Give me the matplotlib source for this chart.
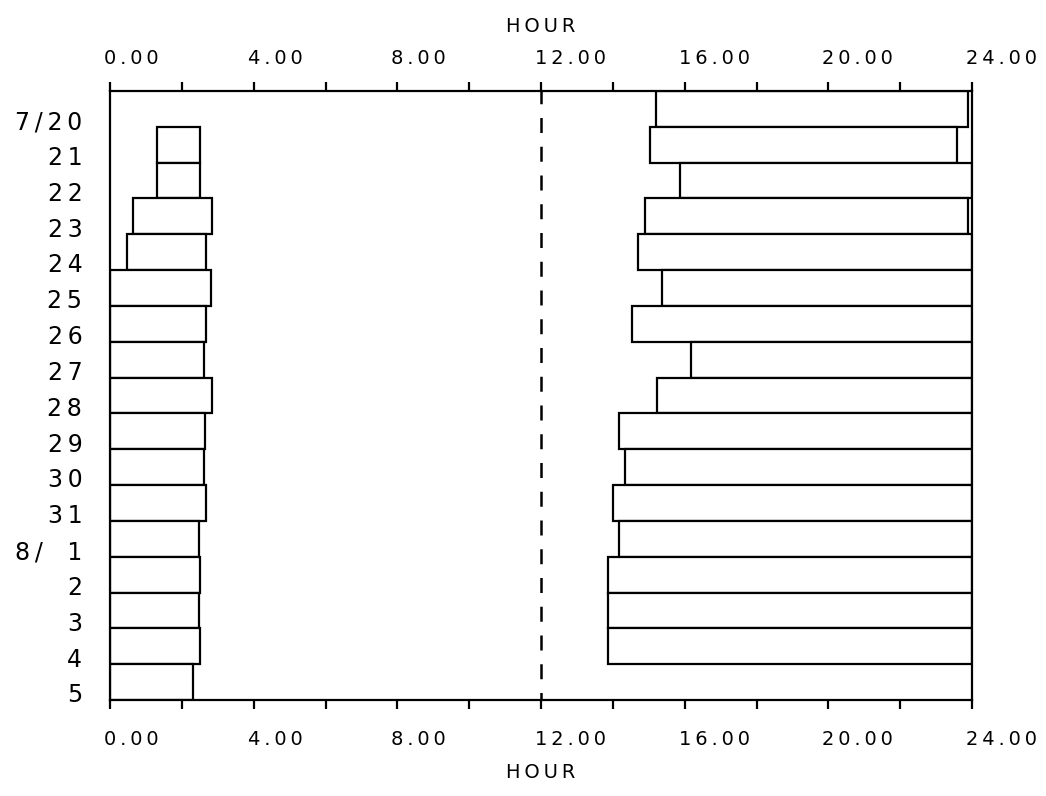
import numpy as np
import matplotlib
matplotlib.use('Agg')
import matplotlib.pyplot as plt
from matplotlib.transforms import ScaledTranslation

# one row per day, top to bottom
days = ['7/20', '21', '22', '23', '24', '25', '26', '27', '28', '29', '30', '31',
        '8/ 1', '2', '3', '4', '5']

# early morning interval (hours), nan = no bar
early_start = [np.nan, 1.31, 1.31, 0.65, 0.47, 0, 0, 0, 0, 0, 0, 0, 0, 0, 0, 0, 0]
early_end = [np.nan, 2.51, 2.51, 2.83, 2.67, 2.81, 2.67, 2.62, 2.83, 2.64, 2.62, 2.67,
             2.48, 2.51, 2.49, 2.51, 2.32]

# afternoon / evening interval (hours)
late_start = [15.20, 15.04, 15.87, 14.89, 14.69, 15.36, 14.53, 16.17, 15.23, 14.17, 14.34,
              14.00, 14.17, 13.87, 13.87, 13.87, np.nan]
late_end = [23.89, 23.58, 24, 23.89, 24, 24, 24, 24, 24, 24, 24, 24, 24, 24, 24, 24, np.nan]

hour_ticks = [0, 4, 8, 12, 16, 20, 24]
hour_labels = ['0.00', '4.00', '8.00', '12.00', '16.00', '20.00', '24.00']
minor_ticks = [2, 6, 10, 14, 18, 22]


def thin(s):
    # plotter style letter spacing, a blank column keeps digit width
    return '\u2009'.join(s.replace(' ', '\u2007'))


fig = plt.figure(figsize=(10.46, 7.96), dpi=100)
ax = fig.add_axes([0.1052, 0.1206, 0.8241, 0.7651])

lw = 1.6
rows = np.arange(len(days))

# draw the two intervals of each day
for start, end in [(early_start, early_end), (late_start, late_end)]:
    start = np.array(start, dtype=float)
    end = np.array(end, dtype=float)
    ok = ~np.isnan(start)
    ax.barh(rows[ok] + 0.5, end[ok] - start[ok], left=start[ok], height=1.0,
            color='white', edgecolor='black', linewidth=lw)

# noon marker
ax.axvline(12, color='black', linewidth=1.8, linestyle=(3, (6, 5.5)))

ax.set_xlim(0, 24)
ax.set_ylim(len(days), 0)

for sp in ax.spines.values():
    sp.set_linewidth(lw)

ax.set_xticks(hour_ticks, labels=[thin(l) for l in hour_labels])
ax.set_xticks(minor_ticks, minor=True)
ax.tick_params(axis='x', which='both', direction='out', length=6.5, width=lw,
               top=True, bottom=True, labeltop=True, labelbottom=True,
               pad=10.4, labelsize=14)

ax.set_yticks(rows + 0.8, labels=[thin(d) for d in days])
ax.tick_params(axis='y', length=0, pad=20, labelsize=17)

# hour labels start just left of their tick
for tick in ax.xaxis.get_major_ticks():
    tick.label1.set_horizontalalignment('left')
    tick.label1.set_transform(tick.label1.get_transform()
                              + ScaledTranslation(-0.06, -0.07, fig.dpi_scale_trans))
    tick.label2.set_horizontalalignment('left')
    tick.label2.set_transform(tick.label2.get_transform()
                              + ScaledTranslation(-0.06, 0, fig.dpi_scale_trans))

ax.text(12, 1.097, thin('HOUR'), transform=ax.get_xaxis_transform(),
        ha='center', va='baseline', fontsize=14)
ax.text(12, -0.128, thin('HOUR'), transform=ax.get_xaxis_transform(),
        ha='center', va='baseline', fontsize=14)

fig.savefig('out.png', dpi=100)
